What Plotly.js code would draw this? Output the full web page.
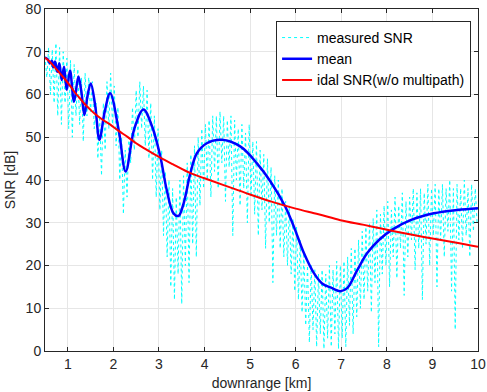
<!DOCTYPE html>
<html>
<head>
<meta charset="utf-8">
<script src="https://cdn.plot.ly/plotly-3.0.1.min.js"></script>
<style>html,body{margin:0;padding:0;background:#fff;}#chart{width:487px;height:392px;}</style>
</head>
<body>
<div id="chart"></div>
<script>
// measured SNR, sampled every 0.04 km starting at 0.5 km
var measuredStart = 0.5;
var measuredStep = 0.04;
var measuredSNR = [
69,64,71,60,70.5,58,
72,55,71,53,70,58,68.5,
52,68,50,67,55,66,
53,64,49,65,55,64,
56,63,52,58,45,55,
41,58,47,63,52,65,
53,62,48,57,40,50,
32,47,36,50,44,57,
47,61,50,63,52,62,
48,61,45,58,40,55,
36,52,33,47,27,42,
22,40,15,38,12,36,
18,40,11,41,20,44,
16,46,25,48,22,50,
34,52,38,53,40,54,
36,55,42,55,38,56,
44,55,35,54,43,55,
27,54,40,52,34,53,
38,51,30,53,36,49,
32,49,27,47,33,46,
24,45,30,43,16,41,
27,40,24,38,22,35,
20,34,18,31,14,29,
12,26,9,23,6,20,
2,20,5,19,1,18,
4,19,0.5,18,3,20,
1,19,4,21,0.5,20,
3,21,1,22,6,24,
4,24,8,26,10,28,
12,29,14,30,9,31,
16,33,1,32,18,34,
20,35,15,33,22,36,
17,34,24,37,13,35,
22,36,26,38,19,37,
24,38,12,37,25,39,
20,38,27,39,15,38,
26,39,22,38,28,40,
14,38,5,39,26,38,
24,40,27,38,22,39,28,38,30
];

// mean SNR
var meanKm  = [0.50,0.56,0.61,0.65,0.68,0.72,0.77,0.815,0.867,0.918,0.977,1.049,1.137,1.233,1.30,1.364,1.43,1.504,1.60,1.694,1.81,1.929,2.12,2.27,2.46,2.66,2.85,3.03,3.17,3.32,3.43,3.54,3.69,3.83,4.05,4.38,4.79,5.15,5.45,5.77,5.96,6.18,6.40,6.58,6.80,6.98,7.13,7.35,7.57,7.85,8.12,8.52,9.03,9.55,10.0];
var meanSNR = [68.6,68.2,67.3,67.9,66.4,67.7,65.3,67.3,63.4,66.5,61.1,65.6,58.3,64.2,60.5,55.2,59.5,62.6,57.5,49.4,56,60.3,51.5,42,52,56.5,52.5,45.5,37.7,32.2,31.6,34.5,41.6,46.2,48.6,49.4,47.8,43.9,39.6,33.8,29.1,22.9,18.2,15.8,14.7,14.0,14.7,18.9,22.9,26.2,28.4,30.6,32.2,33.0,33.4];

// ideal SNR (w/o multipath)
var idealKm  = [0.5,0.6,0.7,0.8,0.92,1.04,1.14,1.25,1.36,1.5,1.58,1.75,1.94,2.1,2.31,2.5,2.68,3.0,3.3,3.69,4.0,4.42,5.0,5.45,6.0,6.5,6.98,7.5,7.85,8.5,9.0,9.5,10.0];
var idealSNR = [68.6,67.7,66.5,65.3,63.8,62.2,60.7,59.3,57.9,56.4,55.6,54.2,52.9,51.6,50.1,48.6,47.4,45.4,43.7,41.6,40.4,38.8,36.6,35.0,33.3,32.0,30.6,29.5,28.7,27.3,26.3,25.4,24.4];

var xTicks = [1,2,3,4,5,6,7,8,9,10];
var yTicks = [0,10,20,30,40,50,60,70,80];

var FONT = 'Liberation Sans, Arial, sans-serif';

var traces = [
  {x0: measuredStart, dx: measuredStep, y: measuredSNR, type: 'scatter', mode: 'lines',
   name: 'measured SNR', line: {color: '#00FFFF', width: 1, dash: 'dot'}},
  {x: meanKm, y: meanSNR, type: 'scatter', mode: 'lines', name: 'mean',
   line: {color: '#0000FF', width: 2.5, shape: 'spline', smoothing: 1}},
  {x: idealKm, y: idealSNR, type: 'scatter', mode: 'lines', name: 'idal SNR(w/o multipath)',
   line: {color: '#FF0000', width: 2, shape: 'spline', smoothing: 1}}
];

var axisCommon = {
  showline: true, mirror: 'ticks', linecolor: '#262626', linewidth: 1,
  ticks: 'inside', ticklen: 4, tickcolor: '#262626',
  showgrid: true, gridcolor: '#e6e6e6', gridwidth: 1, zeroline: false,
  tickfont: {family: FONT, size: 14, color: '#262626'}
};

var layout = {
  width: 487, height: 392,
  margin: {l: 45, r: 9, t: 9, b: 41},
  paper_bgcolor: '#ffffff', plot_bgcolor: '#ffffff',
  showlegend: true,
  xaxis: Object.assign({}, axisCommon, {
    range: [0.5, 10], tickvals: xTicks, ticktext: xTicks.map(String),
    title: {text: 'downrange [km]', standoff: 7,
      font: {family: FONT, size: 14, color: '#262626'}}
  }),
  yaxis: Object.assign({}, axisCommon, {
    range: [0, 80], tickvals: yTicks, ticktext: yTicks.map(String),
    title: {text: 'SNR [dB]', standoff: 6,
      font: {family: FONT, size: 14, color: '#262626'}}
  }),
  legend: {
    x: 0.984, y: 0.965, xanchor: 'right', yanchor: 'top',
    bgcolor: '#ffffff', bordercolor: '#262626', borderwidth: 1,
    font: {family: FONT, size: 14, color: '#000000'},
    tracegroupgap: 0
  }
};

Plotly.newPlot('chart', traces, layout, {displayModeBar: false, staticPlot: true});
</script>
</body>
</html>
